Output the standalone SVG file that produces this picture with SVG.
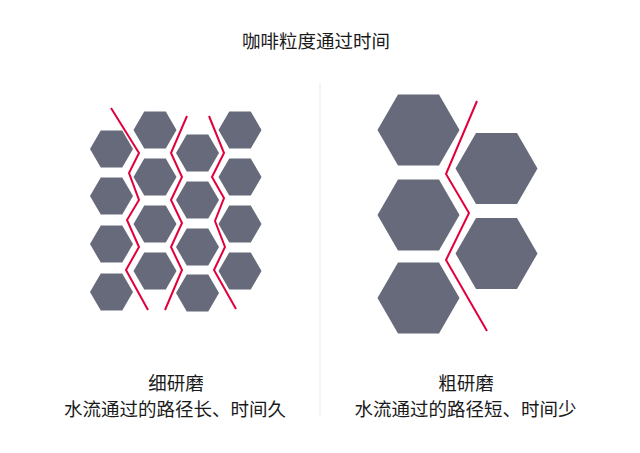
<svg xmlns="http://www.w3.org/2000/svg" xmlns:xlink="http://www.w3.org/1999/xlink" width="640" height="453" viewBox="0 0 640 453">
<defs>
<polygon id="hs" points="-21.5,0 -10.75,-18.6 10.75,-18.6 21.5,0 10.75,18.6 -10.75,18.6"/>
<polygon id="hl" points="-41,0 -20.5,-35.5 20.5,-35.5 41,0 20.5,35.5 -20.5,35.5"/>
</defs>
<style>
.hex{fill:#676a7a}
.flow{fill:none;stroke:#e2003c;stroke-width:2;stroke-linejoin:miter}
.t{font-family:"Noto Sans CJK SC","Noto Sans",sans-serif;font-size:18.5px;fill:#1a1a1a;text-anchor:middle}
</style>
<rect width="640" height="453" fill="#ffffff"/>
<text class="t" x="316" y="47.5">咖啡粒度通过时间</text>
<line x1="320" y1="83" x2="320" y2="415" stroke="#f0f0f0" stroke-width="1.5"/>
<g id="fine">
<g id="f11"><use xlink:href="#hs" class="hex" x="111.5" y="149"/></g>
<g id="f12"><use xlink:href="#hs" class="hex" x="111.5" y="196"/></g>
<g id="f13"><use xlink:href="#hs" class="hex" x="111.5" y="244"/></g>
<g id="f14"><use xlink:href="#hs" class="hex" x="111.5" y="292"/></g>
<g id="f21"><use xlink:href="#hs" class="hex" x="155" y="130"/></g>
<g id="f22"><use xlink:href="#hs" class="hex" x="155" y="177"/></g>
<g id="f23"><use xlink:href="#hs" class="hex" x="155" y="224"/></g>
<g id="f24"><use xlink:href="#hs" class="hex" x="155" y="271"/></g>
<g id="f31"><use xlink:href="#hs" class="hex" x="197.5" y="153"/></g>
<g id="f32"><use xlink:href="#hs" class="hex" x="197.5" y="200"/></g>
<g id="f33"><use xlink:href="#hs" class="hex" x="197.5" y="247"/></g>
<g id="f34"><use xlink:href="#hs" class="hex" x="197.5" y="293"/></g>
<g id="f41"><use xlink:href="#hs" class="hex" x="240" y="130"/></g>
<g id="f42"><use xlink:href="#hs" class="hex" x="240" y="177"/></g>
<g id="f43"><use xlink:href="#hs" class="hex" x="240" y="224"/></g>
<g id="f44"><use xlink:href="#hs" class="hex" x="240" y="271"/></g>
</g>
<g id="coarse">
<g id="c11"><use xlink:href="#hl" class="hex" x="418.5" y="130"/></g>
<g id="c12"><use xlink:href="#hl" class="hex" x="418.5" y="215"/></g>
<g id="c13"><use xlink:href="#hl" class="hex" x="418.5" y="298"/></g>
<g id="c21"><use xlink:href="#hl" class="hex" x="496.5" y="168.5"/></g>
<g id="c22"><use xlink:href="#hl" class="hex" x="496.5" y="253.5"/></g>
</g>
<g id="connectors">
<polyline class="flow" points="111,108 139,153 129,173 139,200 127,220 139,247 126,270 148,310"/>
<polyline class="flow" points="187,116 171,153 182,177 171,200 182,223 171,247 182,270 165,310"/>
<polyline class="flow" points="209,116 224,153 212,177 224,198 215,221 225,247 214,270 236,309"/>
<polyline class="flow" points="477,101 446,174 469,213 446,260 487,331"/>
</g>
<g id="label-fine">
<text class="t" x="176" y="390">细研磨</text>
<text class="t" x="175" y="415.5">水流通过的路径长、时间久</text>
</g>
<g id="label-coarse">
<text class="t" x="466" y="390">粗研磨</text>
<text class="t" x="465.5" y="415.5">水流通过的路径短、时间少</text>
</g>
</svg>
